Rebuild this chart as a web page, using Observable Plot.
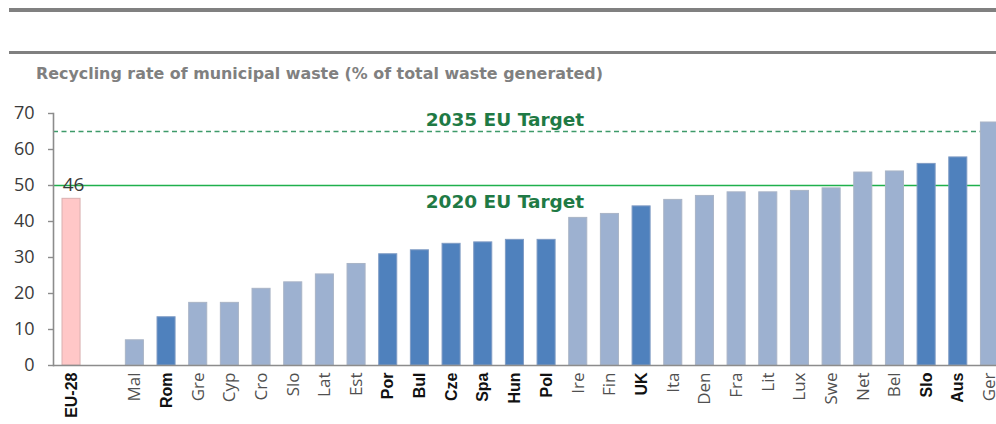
<!DOCTYPE html>
<html>
<head>
<meta charset="utf-8">
<script src="https://cdn.jsdelivr.net/npm/d3@7"></script>
<script src="https://cdn.jsdelivr.net/npm/@observablehq/plot@0.6"></script>
<style>
  html, body { margin: 0; padding: 0; background: #fff; }
  body { width: 996px; height: 424px; overflow: hidden; position: relative; }
  #hdr { position: relative; height: 95px; }
  .rule { position: absolute; left: 9px; right: 0; background: #808080; }
  #title { position: absolute; left: 36px; top: 64px; font-family: "DejaVu Sans"; font-weight: bold; font-size: 15.9px; color: #808080; white-space: nowrap; }
  #chart svg { overflow: visible; }
</style>
</head>
<body>
<div id="hdr">
  <div class="rule" style="top:8px;height:4px"></div>
  <div class="rule" style="top:51px;height:3px"></div>
  <div id="title">Recycling rate of municipal waste (% of total waste generated)</div>
</div>
<div id="chart"></div>
<script>
const countries = ["EU-28","","Mal","Rom","Gre","Cyp","Cro","Slo","Lat","Est","Por","Bul","Cze","Spa","Hun","Pol","Ire","Fin","UK","Ita","Den","Fra","Lit","Lux","Swe","Net","Bel","Slo","Aus","Ger"];
const rates = [46.3,null,7.0,13.4,17.4,17.4,21.3,23.1,25.3,28.2,30.9,32.0,33.8,34.2,34.9,34.9,41.0,42.1,44.2,46.0,47.1,48.1,48.1,48.5,49.2,53.6,53.9,56.0,57.8,67.5];
const groups = ["eu","gap","other","focus","other","other","other","other","other","other","focus","focus","focus","focus","focus","focus","other","other","focus","other","other","other","other","other","other","other","other","focus","focus","other"];
const targetNames = ["2020 EU Target","2035 EU Target"];
const targetValues = [50, 65];
const yTicks = [0,10,20,30,40,50,60,70];

const fills = {eu: "#FFC7C7", focus: "#4F81BD", other: "#9DB1D0"};
const strokes = {eu: "#D9B0B0", focus: "#7F9BC4", other: "#A9B4C6"};

const slots = countries.map((c, i) => ({key: String(i), label: c, value: rates[i], group: groups[i]}));
const bars = slots.filter(d => d.value != null);
const boldLabels = slots.filter(d => d.group === "eu" || d.group === "focus");
const plainLabels = slots.filter(d => d.group === "other");
const targets = targetNames.map((n, i) => ({name: n, value: targetValues[i]}));
const eu = bars.filter(d => d.group === "eu");

const chart = Plot.plot({
  width: 996,
  height: 329,
  marginTop: 18,
  marginBottom: 59,
  marginLeft: 53,
  marginRight: 0,
  x: {type: "band", domain: slots.map(d => d.key), range: [55.2, 1005.3], paddingInner: 0.43, paddingOuter: 0.215, round: false, axis: null},
  y: {domain: [0, 70], axis: null},
  marks: [
    Plot.ruleY(targets.filter(d => d.value === 65), {y: "value", stroke: "#3E9A6A", strokeWidth: 1.3, strokeDasharray: "5,3.5"}),
    Plot.ruleY(targets.filter(d => d.value === 50), {y: "value", stroke: "#1FB04C", strokeWidth: 1.6}),
    Plot.barY(bars, {x: "key", y: "value", fill: d => fills[d.group], stroke: d => strokes[d.group], strokeWidth: 1}),
    Plot.ruleY([0], {stroke: "#8C8C8C", strokeWidth: 1.6}),
    Plot.frame({anchor: "left", stroke: "#8C8C8C", strokeWidth: 1.6}),
    Plot.axisY({ticks: yTicks, tickSize: 5, text: null, label: null, stroke: "#8C8C8C", strokeWidth: 1.4}),
    Plot.axisY({ticks: yTicks, tickSize: 0, tickPadding: 19, fontSize: 18, fontFamily: "Open Sans", fill: "#3A3A3A", label: null}),
    Plot.text(targets.filter(d => d.value === 65), {x: () => "14", y: "value", text: "name", dx: -10, lineAnchor: "bottom", dy: -6, fill: "#1F7A45", fontFamily: "DejaVu Sans", fontWeight: "bold", fontSize: 18.5}),
    Plot.text(targets.filter(d => d.value === 50), {x: () => "14", y: "value", text: "name", dx: -10, lineAnchor: "top", dy: 9, fill: "#1F7A45", fontFamily: "DejaVu Sans", fontWeight: "bold", fontSize: 18.5}),
    Plot.text(eu, {x: "key", y: "value", text: d => d3.format(".0f")(d.value), lineAnchor: "bottom", dy: -8, dx: 2, fontFamily: "Open Sans", fontSize: 19, fill: "#3A3A3A"}),
    Plot.text(plainLabels, {x: "key", frameAnchor: "bottom", text: "label", rotate: -90, textAnchor: "end", lineAnchor: "middle", dy: 7, fontFamily: "Open Sans", fontSize: 17, fill: "#505050"}),
    Plot.text(boldLabels, {x: "key", frameAnchor: "bottom", text: "label", rotate: -90, textAnchor: "end", lineAnchor: "middle", dy: 7, fontFamily: "Liberation Sans", fontWeight: "bold", fontSize: 16, fill: "#111"})
  ]
});
document.getElementById("chart").appendChild(chart);
</script>
</body>
</html>
